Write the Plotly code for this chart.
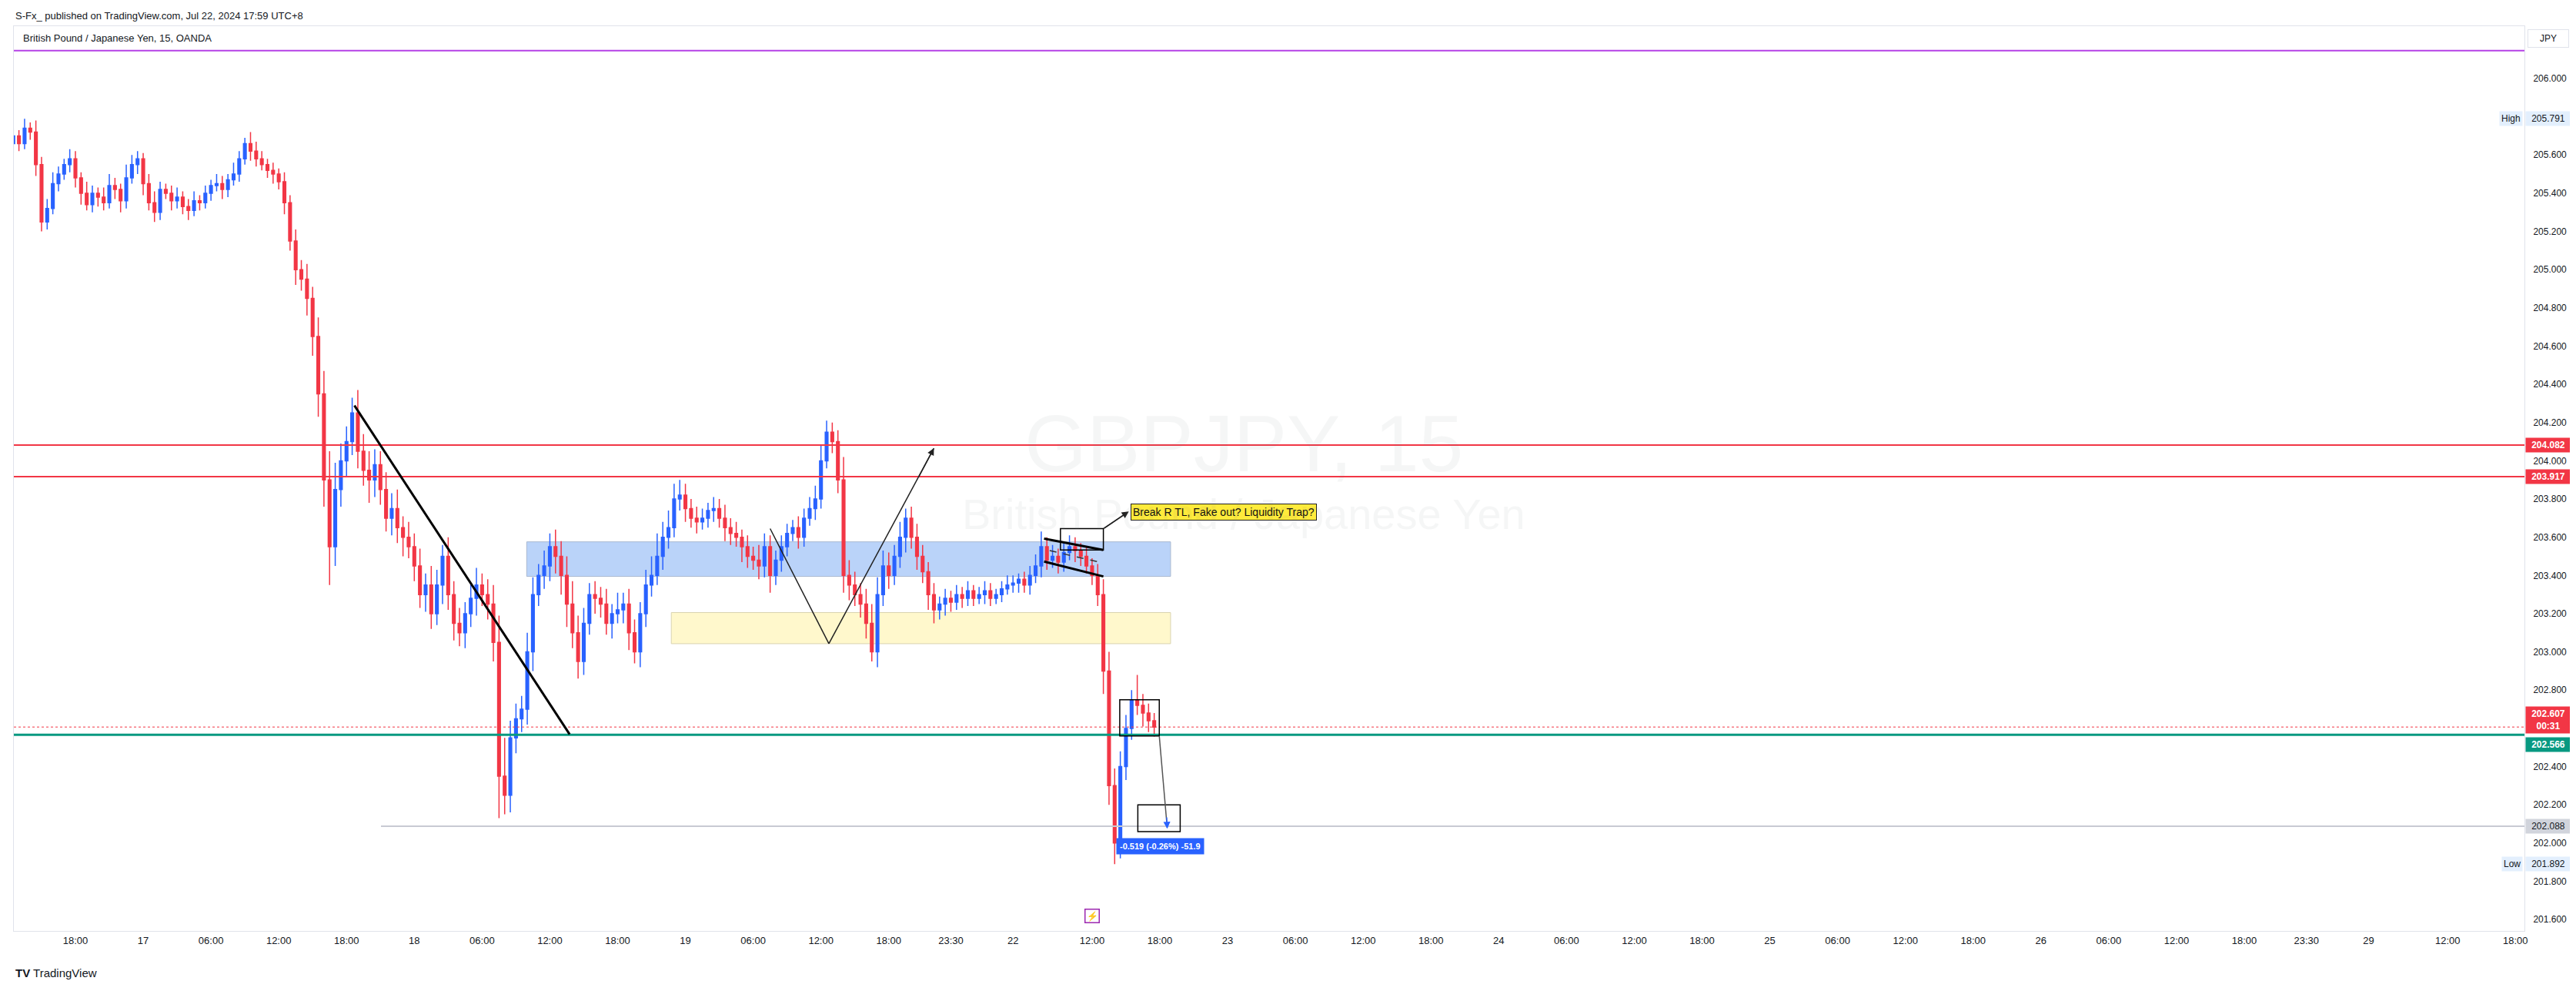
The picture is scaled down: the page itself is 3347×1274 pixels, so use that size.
import plotly.graph_objects as go

# ---------------- data (30-minute bars) ----------------
closes = [205.70,205.66,205.74,205.72,205.55,205.25,205.32,205.45,205.50,205.55,
205.58,205.48,205.40,205.34,205.40,205.38,205.35,205.44,205.42,205.36,
205.48,205.55,205.58,205.45,205.35,205.30,205.42,205.40,205.36,205.38,
205.33,205.31,205.36,205.35,205.40,205.44,205.45,205.42,205.47,205.50,
205.58,205.66,205.62,205.58,205.55,205.52,205.50,205.46,205.35,205.15,
205.00,204.95,204.85,204.65,204.35,203.90,203.55,203.85,204.00,204.10,
204.25,204.05,203.95,203.90,203.98,203.85,203.70,203.75,203.65,203.60,
203.55,203.45,203.30,203.35,203.20,203.35,203.50,203.30,203.15,203.10,
203.20,203.28,203.35,203.30,203.25,203.05,202.35,202.25,202.55,202.65,
202.70,203.00,203.30,203.40,203.45,203.55,203.50,203.40,203.25,203.10,
202.95,203.15,203.30,203.28,203.25,203.15,203.20,203.22,203.25,203.10,
203.00,203.20,203.35,203.40,203.50,203.60,203.65,203.80,203.82,203.75,
203.70,203.68,203.70,203.74,203.75,203.70,203.65,203.62,203.60,203.55,
203.50,203.48,203.45,203.55,203.40,203.48,203.55,203.62,203.65,203.60,
203.70,203.75,203.80,204.00,204.15,204.10,203.90,203.40,203.35,203.30,
203.25,203.15,203.00,203.30,203.45,203.40,203.50,203.60,203.70,203.60,
203.50,203.42,203.30,203.22,203.25,203.28,203.26,203.30,203.28,203.32,
203.28,203.30,203.32,203.28,203.30,203.33,203.35,203.36,203.38,203.35,
203.40,203.45,203.55,203.48,203.50,203.47,203.52,203.55,203.53,203.50,
203.45,203.40,203.30,202.90,202.30,202.00,202.40,202.60,202.75,202.72,
202.68,202.64,202.607]
first_open = 205.66
# wick sizes in 0.01 JPY (hand read)
wick_up = [4,3,5,3,6,4,5,6,4,3, 5,4,3,6,4,3,5,6,4,3, 7,5,4,3,5,6,4,3,4,5,
3,4,5,3,4,3,5,4,3,6, 4,3,6,5,4,3,4,3,5,4, 6,5,8,6,10,12,15,14,9,8,
8,12,9,10,8,7,9,8,10,6, 8,7,9,6,10,8,6,10,7,8, 6,7,9,6,8,10,14,20,9,8,
7,10,9,6,8,7,9,8,10,12, 9,8,6,7,6,8,5,9,6,8, 7,6,8,10,12,8,9,8,8,6,
5,6,5,4,6,5,7,5,6,4, 6,5,8,7,6,5,6,5,4,6, 5,6,7,8,6,5,6,12,8,7,
6,8,10,9,8,7,6,8,5,6, 7,6,5,6,4,5,4,5,4,5, 3,4,5,4,3,4,5,4,3,4,
5,6,8,5,6,4,5,6,5,4, 5,4,6,8,10,9,8,7,5,13, 6,5,4]
wick_dn = [5,4,3,4,6,5,4,3,4,3, 4,5,6,3,4,5,4,3,5,6, 4,3,5,6,4,5,4,3,5,4,
4,5,3,4,3,4,3,5,4,3, 4,3,5,4,3,4,5,4,6,5, 8,6,9,10,12,14,20,10,9,8,
7,9,8,12,9,8,7,9,8,10, 6,8,7,9,8,6,10,8,9,7, 8,7,9,6,8,10,22,10,9,8,
7,8,10,6,7,8,9,10,12,8, 9,7,6,8,7,6,8,5,7,9, 6,8,7,6,5,7,6,5,6,7,
5,6,4,5,6,5,7,6,5,8, 6,5,7,6,9,5,6,5,4,6, 5,4,6,5,4,6,7,9,8,6,
7,8,5,8,6,7,5,6,8,6, 7,6,8,7,5,6,5,4,5,4, 4,3,5,4,3,4,3,4,5,4,
5,4,6,5,4,6,5,4,6,5, 4,5,6,12,10,11,8,7,6,5, 7,6,5]

tick_pos = [11,23,35,47,59,71,83,95,107,119,131,143,155,166,177,191,203,215,227,239,
            251,263,275,287,299,311,323,335,347,359,371,383,395,406,417,431,443]
tick_txt = ["18:00","17","06:00","12:00","18:00","18","06:00","12:00","18:00","19",
            "06:00","12:00","18:00","23:30","22","12:00","18:00","23","06:00","12:00",
            "18:00","24","06:00","12:00","18:00","25","06:00","12:00","18:00","26",
            "06:00","12:00","18:00","23:30","29","12:00","18:00"]

y_ticks = [201.6,201.8,202.0,202.2,202.4,202.8,203.0,203.2,203.4,203.6,203.8,
           204.0,204.2,204.4,204.6,204.8,205.0,205.2,205.4,205.6,206.0]

level_red = [204.082, 203.917]
level_green = 202.566
level_last = 202.607
level_gray = 202.088
level_purple = 206.146
high_val, low_val = 205.791, 201.892

UP, DN = "#2962ff", "#f23645"

opens = [first_open] + closes[:-1]
highs = [max(o, c) + w / 100 for o, c, w in zip(opens, closes, wick_up)]
lows = [min(o, c) - w / 100 for o, c, w in zip(opens, closes, wick_dn)]
xs = list(range(len(closes)))

fig = go.Figure(go.Candlestick(
    x=xs, open=opens, high=highs, low=lows, close=closes,
    increasing=dict(line=dict(color=UP, width=1.5), fillcolor=UP),
    decreasing=dict(line=dict(color=DN, width=1.5), fillcolor=DN),
    whiskerwidth=0, showlegend=False, hoverinfo="skip"))

X0, X1 = 0.1, 444.6
shapes = []
def hline(y, color, width=2, x0=X0, dash="solid"):
    shapes.append(dict(type="line", x0=x0, x1=X1, y0=y, y1=y, xref="x", yref="y",
                       line=dict(color=color, width=width, dash=dash)))
def seg(x0, y0, x1, y1, color="black", width=2, dash="solid"):
    shapes.append(dict(type="line", x0=x0, x1=x1, y0=y0, y1=y1, xref="x", yref="y",
                       line=dict(color=color, width=width, dash=dash)))
def rect(x0, y0, x1, y1, fill="rgba(0,0,0,0)", line="black", width=1.5, layer="above"):
    shapes.append(dict(type="rect", x0=x0, x1=x1, y0=y0, y1=y1, xref="x", yref="y",
                       fillcolor=fill, line=dict(color=line, width=width), layer=layer))

# zones
rect(90.9, 203.395, 204.9, 203.576, fill="rgba(144,184,245,0.62)", line="#a9b8d0", width=1, layer="below")
rect(116.5, 203.043, 204.9, 203.206, fill="rgba(255,243,170,0.6)", line="#d9d3b0", width=1, layer="below")
# levels
hline(level_purple, "#b541e6", 2)
for lv in level_red:
    hline(lv, "#f23645", 2)
hline(level_last, "#f23645", 1, dash="dot")
hline(level_green, "#089981", 3)
hline(level_gray, "#c8cad3", 2, x0=65.1)
# trendline
seg(60.4, 204.289, 98.5, 202.569, "black", 3)
# V path
seg(134.0, 203.645, 144.4, 203.043, "#222", 1.5)
seg(144.4, 203.043, 163.0, 204.066, "#222", 1.5)
# channel
seg(182.5, 203.593, 193.0, 203.533, "black", 3)
seg(182.5, 203.473, 193.0, 203.395, "black", 3)
seg(183.5, 203.53, 193.0, 203.465, "#333", 1.5, "dash")
rect(185.4, 203.533, 193.0, 203.645)
seg(193.0, 203.645, 197.3, 203.73, "#222", 1.5)
# recent boxes
rect(195.9, 202.56, 202.9, 202.75)
rect(199.1, 202.06, 206.6, 202.20)
seg(202.9, 202.56, 204.3, 202.08, "#555", 1.5)
fig.update_layout(shapes=shapes)

ann = []
# arrowheads
ann.append(dict(x=163.0, y=204.066, ax=160.2, ay=203.91, xref="x", yref="y", axref="x", ayref="y",
                text="", showarrow=True, arrowhead=2, arrowsize=1.2, arrowwidth=1.5, arrowcolor="#222"))
ann.append(dict(x=197.5, y=203.735, ax=193.0, ay=203.645, xref="x", yref="y", axref="x", ayref="y",
                text="", showarrow=True, arrowhead=2, arrowsize=1.2, arrowwidth=1.5, arrowcolor="#222"))
ann.append(dict(x=204.3, y=202.075, ax=204.2, ay=202.14, xref="x", yref="y", axref="x", ayref="y",
                text="", showarrow=True, arrowhead=2, arrowsize=1.2, arrowwidth=1.5, arrowcolor="#2962ff"))
ann.append(dict(x=197.8, y=203.73, xref="x", yref="y", xanchor="left", yanchor="middle",
                text="Break R TL, Fake out? Liquidity Trap?", showarrow=False,
                bgcolor="#ffeb3b", bordercolor="#222", borderwidth=1, borderpad=2,
                font=dict(size=14, color="#111", family="Liberation Sans")))
ann.append(dict(x=203.0, y=201.985, xref="x", yref="y", xanchor="center", yanchor="middle",
                text="<b>-0.519 (-0.26%) -51.9</b>", showarrow=False, bgcolor="#2962ff",
                borderpad=4, font=dict(size=11, color="white", family="Liberation Sans")))
# watermark
ann.append(dict(x=0.49, y=204.09, xref="paper", yref="y", text="GBPJPY, 15", showarrow=False,
                font=dict(size=104, color="rgba(120,123,134,0.07)", family="Liberation Sans")))
ann.append(dict(x=0.49, y=203.72, xref="paper", yref="y", text="British Pound / Japanese Yen",
                showarrow=False, font=dict(size=56, color="rgba(120,123,134,0.07)", family="Liberation Sans")))
# header / footer
ann.append(dict(x=0, y=1, xref="paper", yref="paper", xanchor="left", yanchor="bottom", yshift=4,
                text="S-Fx_ published on TradingView.com, Jul 22, 2024 17:59 UTC+8", showarrow=False,
                font=dict(size=13, color="#131722", family="Liberation Sans")))
ann.append(dict(x=0.003, y=1, xref="paper", yref="paper", xanchor="left", yanchor="top", yshift=-6,
                text="British Pound / Japanese Yen, 15, OANDA", showarrow=False,
                font=dict(size=13, color="#131722", family="Liberation Sans")))
ann.append(dict(x=0, y=0, xref="paper", yref="paper", xanchor="left", yanchor="top", yshift=-44,
                text="<b>TV</b> TradingView", showarrow=False,
                font=dict(size=15, color="#131722", family="Liberation Sans")))
ann.append(dict(x=191.0, y=201.62, xref="x", yref="y", text="⚡", showarrow=False,
                bordercolor="#9c27b0", borderwidth=1.5, borderpad=1,
                font=dict(size=12, color="#9c27b0")))
# price-axis labels
def plabel(y, text, bg, fc="white", bold=True):
    t = f"<b>{text}</b>" if bold else text
    ann.append(dict(x=1, y=y, xref="paper", yref="y", xanchor="left", yanchor="middle", xshift=1,
                    text=t, showarrow=False, bgcolor=bg, borderpad=2, width=54, align="center",
                    font=dict(size=12, color=fc, family="Liberation Sans")))
plabel(level_red[0], "204.082", "#f23645")
plabel(level_red[1], "203.917", "#f23645")
plabel(level_last + 0.035, "202.607<br>00:31", "#f23645")
plabel(level_green - 0.05, "202.566", "#089981")
plabel(level_gray, "202.088", "#d1d4dc", fc="#131722", bold=False)
plabel(high_val, "205.791", "#e3effd", fc="#131722", bold=False)
plabel(low_val, "201.892", "#e3effd", fc="#131722", bold=False)
for yv, tx in [(high_val, "High"), (low_val, "Low")]:
    ann.append(dict(x=1, y=yv, xref="paper", yref="y", xanchor="right", yanchor="middle", xshift=-2,
                    text=tx, showarrow=False, bgcolor="#e3effd", borderpad=2,
                    font=dict(size=12, color="#131722", family="Liberation Sans")))
ann.append(dict(x=1, y=1, xref="paper", yref="paper", xanchor="left", yanchor="top", xshift=4, yshift=-4,
                text="JPY", showarrow=False, bordercolor="#e0e3eb", borderwidth=1, borderpad=4, width=44,
                font=dict(size=12, color="#131722", family="Liberation Sans")))
fig.update_layout(annotations=ann)

fig.update_layout(
    width=3347, height=1274, margin=dict(l=10, r=75, t=26, b=73),
    paper_bgcolor="white", plot_bgcolor="white",
    xaxis=dict(range=[X0, X1], tickmode="array", tickvals=tick_pos, ticktext=tick_txt,
               showgrid=False, zeroline=False, rangeslider=dict(visible=False),
               tickfont=dict(size=13, color="#131722", family="Liberation Sans"),
               showline=True, linecolor="#e0e3eb", mirror=True, ticks="", ticklen=0),
    yaxis=dict(range=[201.54, 206.274], side="right", tickmode="array", tickvals=y_ticks,
               tickformat=".3f", showgrid=False, zeroline=False,
               tickfont=dict(size=12, color="#131722", family="Liberation Sans"),
               showline=True, linecolor="#e0e3eb", mirror=True, ticks="", ticklabelstandoff=8),
    font=dict(family="Liberation Sans"),
)
fig.write_html("out.html")
